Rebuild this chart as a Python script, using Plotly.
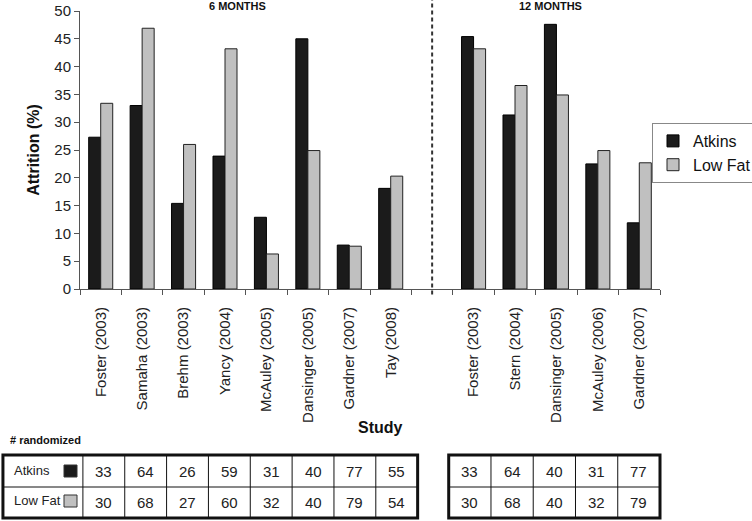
import plotly.graph_objects as go

# attrition (%) at 6 months
six_studies = ["Foster (2003)", "Samaha (2003)", "Brehm (2003)", "Yancy (2004)",
               "McAuley (2005)", "Dansinger (2005)", "Gardner (2007)", "Tay (2008)"]
six_atkins = [27.3, 33.0, 15.4, 23.9, 12.9, 45.0, 7.9, 18.1]
six_lowfat = [33.4, 46.9, 26.0, 43.2, 6.3, 24.9, 7.7, 20.3]
six_n_atkins = [33, 64, 26, 59, 31, 40, 77, 55]
six_n_lowfat = [30, 68, 27, 60, 32, 40, 79, 54]

# attrition (%) at 12 months
twelve_studies = ["Foster (2003)", "Stern (2004)", "Dansinger (2005)",
                  "McAuley (2006)", "Gardner (2007)"]
twelve_atkins = [45.4, 31.3, 47.6, 22.5, 11.9]
twelve_lowfat = [43.2, 36.6, 34.9, 24.9, 22.7]
twelve_n_atkins = [33, 64, 40, 31, 77]
twelve_n_lowfat = [30, 68, 40, 32, 79]

y_ticks = list(range(0, 51, 5))

FONT = "Arial, Liberation Sans, sans-serif"
BLACK_FILL = "#1b1b1b"
GREY_FILL = "#c0c0c0"

# category slots: 6-month studies, one empty slot, 12-month studies
six_x = list(range(len(six_studies)))
twelve_x = [len(six_studies) + 1 + i for i in range(len(twelve_studies))]
x_min, x_max = -0.5, twelve_x[-1] + 0.5
sep_x = len(six_studies)

# plot area in pixels
L, T, W, H = 80, 11, 580, 278
FIG_W, FIG_H = 752, 521


def px_y(p):
    return (T + H - p) / H


def px_x(p):
    return (p - L) / W


def cat_x(c):
    return (c - x_min) / (x_max - x_min)


def note(text, x, y, size, xref="paper", bold=False, xanchor="center", color="#222"):
    return dict(text=text, xref=xref, yref="paper", x=x, y=y, xanchor=xanchor, yanchor="middle",
                showarrow=False,
                font=dict(family=FONT, size=size, weight=700 if bold else 400, color=color))


fig = go.Figure()
fig.add_trace(go.Bar(x=six_x + twelve_x, y=six_atkins + twelve_atkins, name="Atkins",
                     marker=dict(color=BLACK_FILL, line=dict(color="#000000", width=1))))
fig.add_trace(go.Bar(x=six_x + twelve_x, y=six_lowfat + twelve_lowfat, name="Low Fat",
                     marker=dict(color=GREY_FILL, line=dict(color="#222222", width=1))))

shapes = []
annotations = []

# dashed separator between 6 and 12 months
shapes.append(dict(type="line", xref="x", yref="paper", x0=sep_x, x1=sep_x,
                   y0=-0.02, y1=px_y(0), line=dict(color="#333333", width=2, dash="4px,3px")))

annotations.append(note("6 MONTHS", 3.3, px_y(6), 11, xref="x", bold=True, color="#111"))
annotations.append(note("12 MONTHS", 10.85, px_y(6), 11, xref="x", bold=True, color="#111"))
annotations.append(note("Study", 6.75, px_y(427), 16, xref="x", bold=True, color="#111"))
annotations.append(note("# randomized", px_x(8), px_y(440), 11, bold=True, xanchor="left", color="#111"))

# randomized-count tables
row_top, row_mid, row_bot = px_y(455), px_y(487), px_y(518)


def add_table(left, first, width, xs, n_atk, n_low, with_labels):
    n = len(xs)
    right = first + width * n
    shapes.append(dict(type="rect", xref="paper", yref="paper", x0=cat_x(left), x1=cat_x(right),
                       y0=row_bot, y1=row_top, line=dict(color="#111111", width=3)))
    shapes.append(dict(type="line", xref="paper", yref="paper", x0=cat_x(left), x1=cat_x(right),
                       y0=row_mid, y1=row_mid, line=dict(color="#111111", width=1)))
    for k in range(1 if not with_labels else 0, n):
        bx = first + width * k
        shapes.append(dict(type="line", xref="paper", yref="paper", x0=cat_x(bx), x1=cat_x(bx),
                           y0=row_bot, y1=row_top, line=dict(color="#111111", width=1)))
    for k in range(n):
        cx = cat_x(first + width * (k + 0.5))
        annotations.append(note(str(n_atk[k]), cx, (row_top + row_mid) / 2, 15))
        annotations.append(note(str(n_low[k]), cx, (row_mid + row_bot) / 2, 15))
    if with_labels:
        for label, fill, yc in (("Atkins", BLACK_FILL, 471), ("Low Fat", GREY_FILL, 501)):
            annotations.append(note(label, px_x(12), px_y(yc - 1), 13, xanchor="left"))
            shapes.append(dict(type="rect", xref="paper", yref="paper", x0=px_x(64), x1=px_x(77),
                               y0=px_y(yc + 6), y1=px_y(yc - 6), fillcolor=fill,
                               line=dict(color="#333333", width=1)))


add_table(-2.36, -0.43, 1.01, six_x, six_n_atkins, six_n_lowfat, True)
add_table(8.4, 8.4, 1.02, twelve_x, twelve_n_atkins, twelve_n_lowfat, False)

fig.update_layout(
    width=FIG_W, height=FIG_H,
    margin=dict(l=L, r=FIG_W - L - W, t=T, b=FIG_H - T - H, autoexpand=False),
    plot_bgcolor="white", paper_bgcolor="white",
    font=dict(family=FONT, color="#222"),
    barmode="group", bargap=0.42, bargroupgap=0,
    showlegend=True,
    legend=dict(x=px_x(652), y=px_y(123), xanchor="left", yanchor="top",
                bordercolor="#888888", borderwidth=1, bgcolor="white",
                font=dict(family=FONT, size=16, color="#111")),
    xaxis=dict(range=[x_min, x_max], tickmode="array", tickvals=six_x + twelve_x,
               ticktext=six_studies + twelve_studies, tickangle=-90, ticks="",
               ticklabelstandoff=11,
               tickfont=dict(family=FONT, size=15, color="#222"),
               showline=True, linecolor="#555555", linewidth=1, showgrid=False, zeroline=False,
               minor=dict(tickmode="array", tickvals=[c - 0.5 for c in range(int(x_max + 0.5) + 1)],
                          ticks="outside", ticklen=5, tickcolor="#555555", tickwidth=1, showgrid=False)),
    yaxis=dict(range=[0, 50], tickmode="array", tickvals=y_ticks, ticks="outside", ticklen=5,
               tickcolor="#555555", tickfont=dict(family=FONT, size=15, color="#222"),
               showline=True, linecolor="#555555", linewidth=1, showgrid=False, zeroline=False,
               title=dict(text="Attrition (%)", standoff=10,
                          font=dict(family=FONT, size=16, weight=700, color="#111"))),
    shapes=shapes,
    annotations=annotations,
)

# the page's default 8px body margin would push the figure off the window
fig.write_html("out.html", config={"displayModeBar": False},
               post_script="document.body.style.margin='0';")
